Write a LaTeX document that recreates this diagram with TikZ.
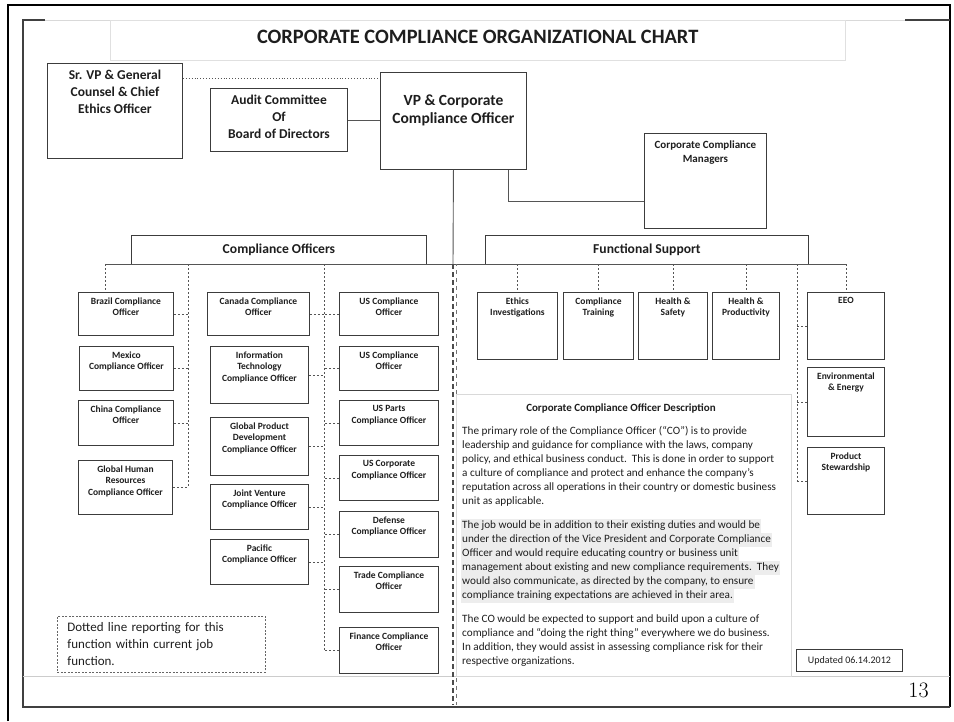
\documentclass[tikz,border=0pt]{standalone}
\usepackage{fontspec}
\newfontfamily\calibri{Carlito}
\usetikzlibrary{positioning}
\definecolor{boxline}{HTML}{3C3C3C}
\definecolor{linkline}{HTML}{555555}
\definecolor{hlgray}{HTML}{EDEDED}
\definecolor{inktext}{HTML}{1E1E1E}

% one highlighted line of the description
\newcommand{\hlline}[1]{{\setlength{\fboxsep}{1pt}\hspace*{-1pt}\colorbox{hlgray}{\rule[-3.2pt]{0pt}{12pt}#1}}}

\begin{document}
\begin{tikzpicture}[x=1pt, y=-1pt,
  box/.style={
    rectangle,
    draw=boxline,
    line width=0.9pt,
    fill=white,
    anchor=north west,
    inner sep=0pt
  },
  unit/.style={box, label={[unittext]north:#1}},
  unittext/.style={
    anchor=north,
    align=center,
    inner xsep=1pt,
    inner ysep=5.5pt,
    text=inktext,
    font=\calibri\bfseries\fontsize{9.5}{11.5}\selectfont
  },
  lead/.style={box, label={[leadtext]north:#1}},
  leadtext/.style={
    anchor=north,
    align=center,
    inner xsep=1pt,
    inner ysep=6.8pt,
    text=inktext,
    font=\calibri\bfseries\fontsize{13.5}{17}\selectfont
  },
  header/.style={
    box,
    minimum height=29pt,
    text=inktext,
    font=\calibri\bfseries\fontsize{13.6}{15}\selectfont
  },
  link/.style={draw=linkline, line width=0.9pt},
  dotlink/.style={draw=linkline, line width=0.9pt, dotted},
  dashlink/.style={draw=linkline, line width=0.7pt, dash pattern=on 2pt off 2pt}
]
\useasboundingbox (0,0) rectangle (954,721);

% slide frame
\draw[line width=2.6pt] (8,721) -- (8,5) -- (950,5) -- (950,707);
\draw[black!75, line width=1.3pt] (45,20) -- (23,20) -- (23,707) -- (950,707);
\draw[black!75, line width=1.3pt] (905,20) -- (950,20);
\draw[black!15] (45,20) -- (905,20);
\draw[black!20] (23,676) -- (950,676);

\node[draw=black!12, fill=white, anchor=north west, minimum width=735pt, minimum height=40pt,
  text depth=6pt, text=inktext, font=\calibri\bfseries\fontsize{20.4}{24}\selectfont]
  (title) at (110,20) {CORPORATE COMPLIANCE ORGANIZATIONAL CHART};

% top of the chart
\node[lead={Sr. VP \& General\\Counsel \& Chief\\Ethics Officer}, minimum width=135pt, minimum height=95pt] (srvp) at (47,63) {};
\node[lead={Audit Committee\\Of\\Board of Directors}, minimum width=137pt, minimum height=63pt] (audit) at (210,88) {};
\node[box, minimum width=146pt, minimum height=97pt,
  label={[leadtext, inner ysep=22.5pt, font=\calibri\bfseries\fontsize{15.5}{18}\selectfont]north:VP \& Corporate\\Compliance Officer}] (vp) at (380,72) {};
\node[box, minimum width=122pt, minimum height=95pt,
  label={[leadtext, inner ysep=8pt, font=\calibri\bfseries\fontsize{11}{14}\selectfont]north:Corporate Compliance\\Managers}] (ccm) at (644,133) {};

\node[header, minimum width=295pt] (officers) at (131,235) {Compliance Officers};
\node[header, minimum width=323pt] (support) at (485,235) {Functional Support};

\coordinate (barL) at (105,264);
\coordinate (barR) at (846,264);
\coordinate (trunkA) at (188,264);
\coordinate (trunkB) at (324,264);
\coordinate (trunkC) at (797,264);
\coordinate (spineTop) at (453,264);
\coordinate (spineEnd) at (453,705);

% compliance officers, three columns
\node[unit={Brazil Compliance\\Officer}, minimum width=95pt, minimum height=43pt] (brazil) at (78,292) {};
\node[unit={Mexico\\Compliance Officer}, minimum width=94pt, minimum height=44pt] (mexico) at (79,346) {};
\node[unit={China Compliance\\Officer}, minimum width=95pt, minimum height=45pt] (china) at (78,400) {};
\node[unit={Global Human\\Resources\\Compliance Officer}, minimum width=94pt, minimum height=54pt] (ghr) at (78,460) {};

\node[unit={Canada Compliance\\Officer}, minimum width=102pt, minimum height=43pt] (canada) at (207,292) {};
\node[unit={Information\\Technology\\Compliance Officer}, minimum width=98pt, minimum height=57pt] (infotech) at (210,346) {};
\node[unit={Global Product\\Development\\Compliance Officer}, minimum width=98pt, minimum height=58pt] (gpd) at (210,417) {};
\node[unit={Joint Venture\\Compliance Officer}, minimum width=98pt, minimum height=45pt] (venture) at (210,484) {};
\node[unit={Pacific\\Compliance Officer}, minimum width=98pt, minimum height=45pt] (pacific) at (210,539) {};

\node[unit={US Compliance\\Officer}, minimum width=99pt, minimum height=43pt] (usa) at (339,292) {};
\node[unit={US Compliance\\Officer}, minimum width=99pt, minimum height=44pt] (usb) at (339,346) {};
\node[unit={US Parts\\Compliance Officer}, minimum width=99pt, minimum height=45pt] (parts) at (339,400) {};
\node[unit={US Corporate\\Compliance Officer}, minimum width=99pt, minimum height=45pt] (corporate) at (339,455) {};
\node[unit={Defense\\Compliance Officer}, minimum width=99pt, minimum height=46pt] (defense) at (339,511) {};
\node[unit={Trade Compliance\\Officer}, minimum width=99pt, minimum height=46pt] (trade) at (339,566) {};
\node[unit={Finance Compliance\\Officer}, minimum width=99pt, minimum height=46pt] (finance) at (339,627) {};

% functional support
\node[unit={Ethics\\Investigations}, minimum width=80pt, minimum height=67pt] (ethics) at (477,292) {};
\node[unit={Compliance\\Training}, minimum width=70pt, minimum height=67pt] (training) at (563,292) {};
\node[unit={Health \&\\Safety}, minimum width=69pt, minimum height=67pt] (safety) at (638,292) {};
\node[unit={Health \&\\Productivity}, minimum width=67pt, minimum height=67pt] (wellness) at (712,292) {};
\node[unit={EEO}, minimum width=77pt, minimum height=67pt] (eeo) at (807,292) {};
\node[unit={Environmental\\\& Energy}, minimum width=77pt, minimum height=69pt] (energy) at (807,367) {};
\node[unit={Product\\Stewardship}, minimum width=77pt, minimum height=67pt] (stewardship) at (807,447) {};

% reporting lines
\draw[dotlink] ([yshift=-15pt]srvp.north east) -- ([yshift=-6pt]vp.north west);
\draw[link] (audit.east) -- (audit.east -| vp.west);
\draw[link] (vp.south) -- (spineTop);
\draw[link] ([xshift=-18pt]vp.south east) |- ([yshift=-20pt]ccm.west);
\draw[link] (barL) -- (barR);
\draw[line width=2.2pt, draw=black!70, dash pattern=on 5pt off 3pt] (spineTop) -- (spineEnd);
\draw[line width=0.7pt, draw=black!55, dash pattern=on 4pt off 4pt, dash phase=2pt] ([xshift=3pt]spineTop) -- ([xshift=3pt]spineEnd);

\draw[dashlink] (barL) -- (barL |- brazil.north);
\draw[dashlink] (trunkA) -- (trunkA |- ghr.east);
\foreach \n in {brazil, mexico, china, ghr}
  \draw[dashlink] (\n.east) -- (\n.east -| trunkA);
\draw[dashlink] (trunkB) -- (trunkB |- finance.west);
\foreach \n in {canada, infotech, gpd, venture, pacific}
  \draw[dashlink] (\n.east) -- (\n.east -| trunkB);
\foreach \n in {usa, usb, parts, corporate, defense, trade, finance}
  \draw[dashlink] (\n.west) -- (\n.west -| trunkB);
\foreach \n in {ethics, training, safety, wellness, eeo}
  \draw[dashlink] (\n.north |- barL) -- (\n.north);
\draw[dashlink] (trunkC) -- (trunkC |- stewardship.west);
\foreach \n in {eeo, energy, stewardship}
  \draw[dashlink] (\n.west) -- (\n.west -| trunkC);

% description of the role
\node[draw=black!15, anchor=north west, minimum width=335pt, minimum height=282pt] (descpanel) at (456,394) {};
\node[text=inktext, font=\calibri\bfseries\fontsize{11}{13}\selectfont] (desctitle) at (621,408) {Corporate Compliance Officer Description};
\node[anchor=north west, inner sep=0pt, align=left, text=inktext, font=\calibri\fontsize{11.2}{14}\selectfont] (desctext) at (462,426) {%
The primary role of the Compliance Officer (“CO”) is to provide\\
leadership and guidance for compliance with the laws, company\\
policy, and ethical business conduct.\ \ This is done in order to support\\
a culture of compliance and protect and enhance the company’s\\
reputation across all operations in their country or domestic business\\
unit as applicable.\\[10pt]
\hlline{The job would be in addition to their existing duties and would be}\\
\hlline{under the direction of the Vice President and Corporate Compliance}\\
\hlline{Officer and would require educating country or business unit}\\
\hlline{management about existing and new compliance requirements.\ \ They}\\
\hlline{would also communicate, as directed by the company, to ensure}\\
\hlline{compliance training expectations are achieved in their area.}\\[10pt]
The CO would be expected to support and build upon a culture of\\
compliance and “doing the right thing” everywhere we do business.\\
In addition, they would assist in assessing compliance risk for their\\
respective organizations.};

% legend and footer
\node[draw=black!60, line width=0.8pt, dash pattern=on 2pt off 1.5pt, anchor=north west,
  minimum width=208pt, minimum height=56pt, text width=188pt, inner xsep=10pt, align=left,
  text=inktext, font=\calibri\fontsize{13}{17}\selectfont]
  (legend) at (57,616) {Dotted line reporting for this\\function within current job\\function.};
\node[draw=boxline, line width=0.9pt, anchor=north west, minimum width=106pt, minimum height=22pt,
  text=inktext, font=\calibri\fontsize{10}{12}\selectfont] (updated) at (796,649) {Updated 06.14.2012};
\node[font=\fontsize{22}{22}\selectfont] (pageno) at (918.5,690.5) {13};

\end{tikzpicture}
\end{document}
